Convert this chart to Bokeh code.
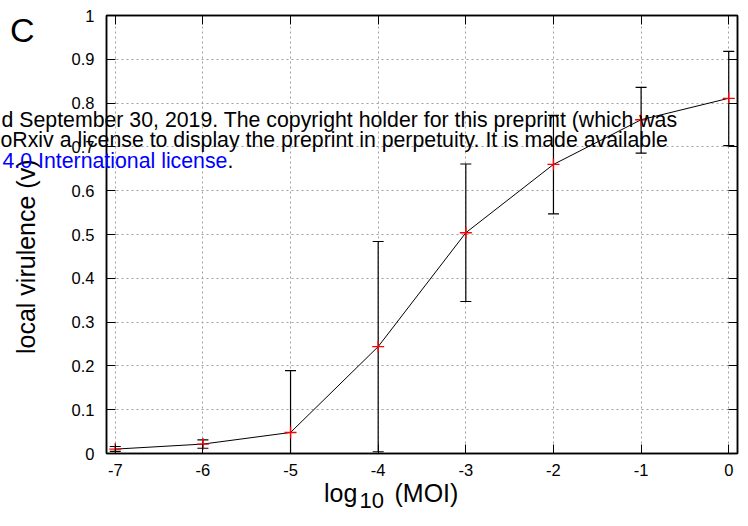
import math
from bokeh.plotting import figure
from bokeh.models import Range1d, FixedTicker, LinearAxis, CustomJSTickFormatter
from bokeh.core.properties import value
from bokeh.embed import file_html
from bokeh.resources import INLINE

# ---- data ----
moi_log10 = [-7, -6, -5, -4, -3, -2, -1, 0]
virulence = [0.010, 0.0215, 0.048, 0.244, 0.504, 0.660, 0.762, 0.811]
err_low = [0.005, 0.012, -0.093, 0.004, 0.347, 0.547, 0.686, 0.703]
err_high = [0.016, 0.031, 0.189, 0.484, 0.661, 0.772, 0.836, 0.918]
x_ticks = [-7, -6, -5, -4, -3, -2, -1, 0]
y_ticks = [0.0, 0.1, 0.2, 0.3, 0.4, 0.5, 0.6, 0.7, 0.8, 0.9, 1.0]

FONT = "Liberation Sans"

# frame geometry (pixels)
FL, FR, FT, FB = 106, 737, 15, 453
XMIN, XMAX = -7.1, 0.1
YMIN, YMAX = 0.0, 1.0
BASE_K = 0.37   # baseline correction (in em): text glyph is anchored at its box centre


def px_x(px):
    return XMIN + (px - FL) * (XMAX - XMIN) / (FR - FL)


def px_y(py):
    return YMIN + (FB - py) * (YMAX - YMIN) / (FB - FT)


p = figure(width=748, height=526,
           x_range=Range1d(XMIN, XMAX), y_range=Range1d(YMIN, YMAX),
           output_backend="svg", toolbar_location=None,
           min_border_left=FL, min_border_right=748 - FR,
           min_border_top=FT, min_border_bottom=526 - FB)
p.outline_line_color = "black"
p.outline_line_width = 1.5
p.background_fill_color = "white"
p.border_fill_color = "white"

# axes
p.xaxis.ticker = FixedTicker(ticks=x_ticks)
p.yaxis.ticker = FixedTicker(ticks=y_ticks)
p.xaxis.formatter = CustomJSTickFormatter(code="return tick.toFixed(0);")
p.yaxis.formatter = CustomJSTickFormatter(code="return Number(tick.toFixed(1)).toString();")
for ax in (p.xaxis[0], p.yaxis[0]):
    ax.major_tick_in = 9
    ax.major_tick_out = 0
    ax.minor_tick_in = 0
    ax.minor_tick_out = 0
    ax.axis_line_color = "black"
    ax.axis_line_width = 1.5
    ax.major_tick_line_color = "black"
    ax.major_tick_line_width = 1
    ax.major_label_text_font = FONT
    ax.major_label_text_font_size = "16.5px"
    ax.major_label_text_color = "black"
p.yaxis.major_label_standoff = 12
p.xaxis.major_label_standoff = 10

for loc, ticks in (("above", x_ticks), ("right", y_ticks)):
    ax = LinearAxis(ticker=FixedTicker(ticks=ticks),
                    formatter=CustomJSTickFormatter(code="return '';"),
                    major_label_text_font_size="0px", major_label_standoff=0,
                    major_tick_in=9, major_tick_out=0,
                    minor_tick_in=0, minor_tick_out=0,
                    axis_line_color="black", axis_line_width=1.5,
                    major_tick_line_color="black")
    p.add_layout(ax, loc)

# grid
for g in (p.xgrid[0], p.ygrid[0]):
    g.grid_line_color = "#a0a0a0"
    g.grid_line_dash = "2 3"
    g.grid_line_width = 1
p.xgrid.ticker = FixedTicker(ticks=x_ticks)
p.ygrid.ticker = FixedTicker(ticks=y_ticks)

# error bars
p.segment(x0=moi_log10, y0=err_low, x1=moi_log10, y1=err_high,
          line_color="black", line_width=1.2)
p.scatter(moi_log10, err_low, marker="dash", size=11, line_color="black", line_width=1.2)
p.scatter(moi_log10, err_high, marker="dash", size=11, line_color="black", line_width=1.2)

# mean curve and markers
p.line(moi_log10, virulence, line_color="black", line_width=1)
p.scatter(moi_log10, virulence, marker="cross", size=12, line_color="red", line_width=1.3)


# free texts (text glyphs on the overlay level so they may leave the frame)
def lab(text, x, y, size, color="black", rotated=False):
    s = float(size.replace("px", ""))
    if rotated:
        x = x - BASE_K * s
        angle = math.pi / 2
    else:
        y = y - BASE_K * s
        angle = 0.0
    p.text(x=[px_x(x)], y=[px_y(y)], text=[text], text_font=value(FONT),
           text_font_size=value(size), text_color=color, angle=angle,
           text_baseline="alphabetic", text_align="left", level="overlay")


lab("log", 323.5, 501.7, "25px")
lab("10", 359, 508.3, "22px")
lab("(MOI)", 394, 501.7, "25px")
lab("local virulence (v)", 35, 353.5, "25px", rotated=True)

# panel letter
lab("C", 9.5, 41.7, "34px")

# preprint watermark text
lab("d September 30, 2019. The copyright holder for this preprint (which was", 1, 127.3, "21.3px")
lab("oRxiv a license to display the preprint in perpetuity. It is made available", 0, 147.7, "21.3px")
lab("4.0 International license", 2, 168.3, "21.3px", color="#0000ff")
lab(".", 227, 168.3, "21.3px")

open("out.html", "w").write(file_html(p, INLINE))
